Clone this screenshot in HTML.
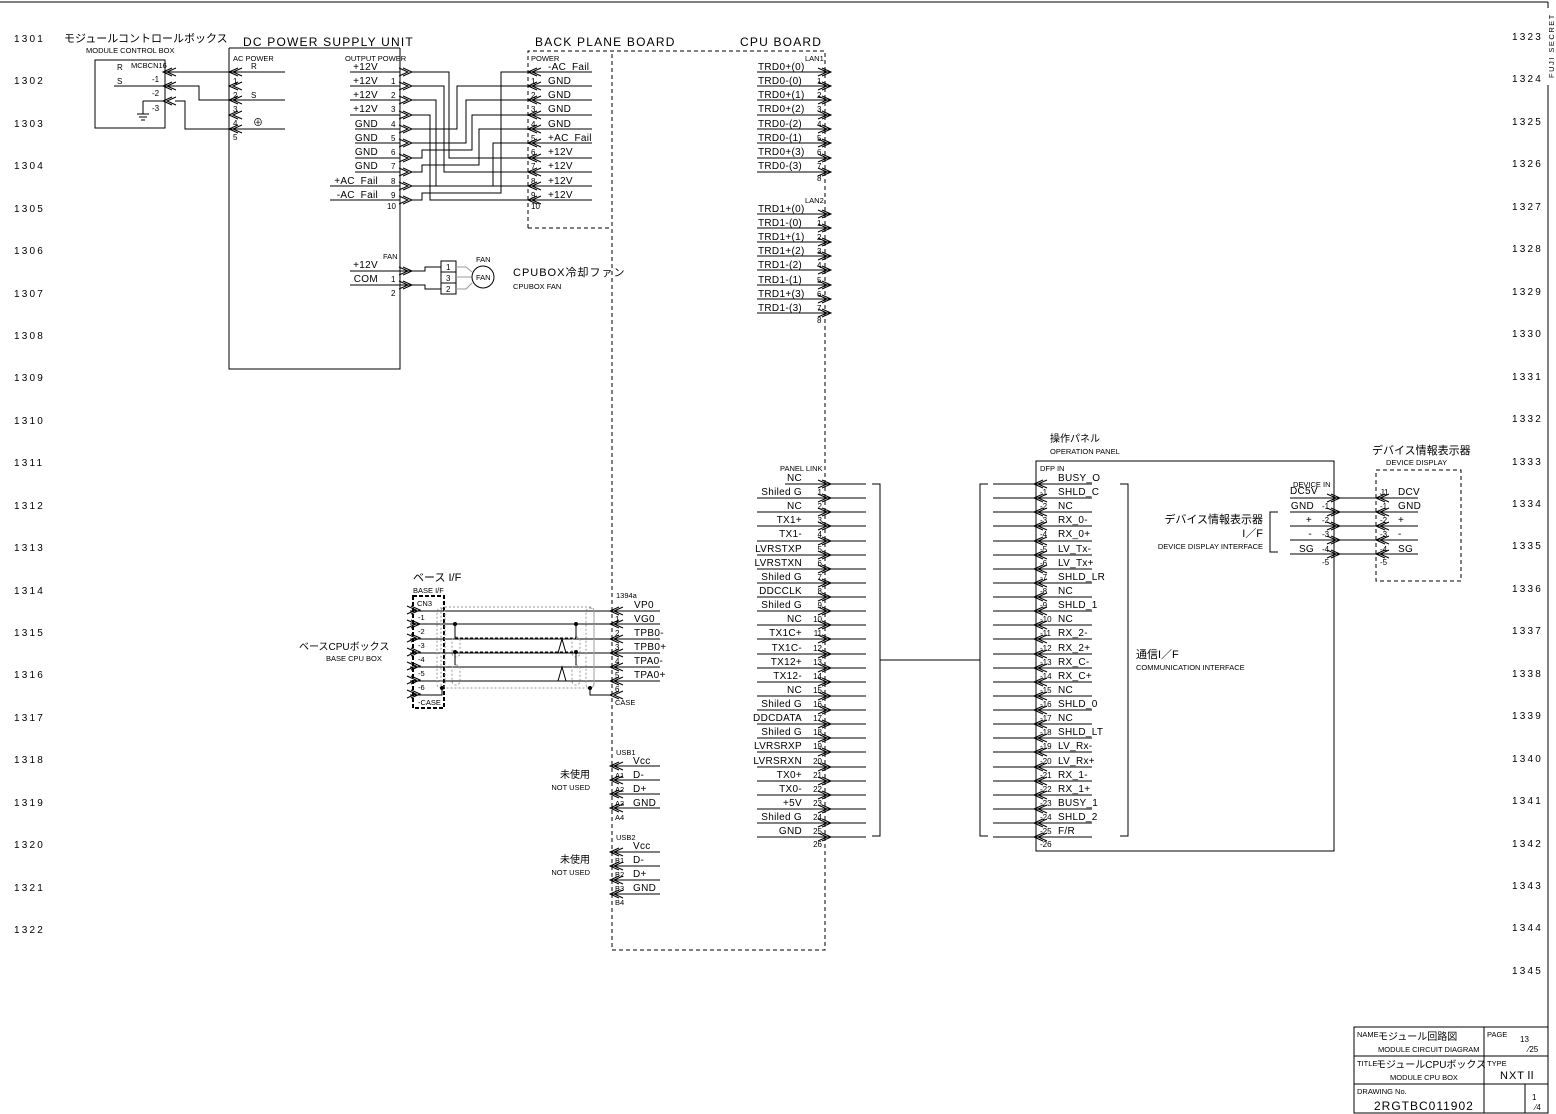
<!DOCTYPE html>
<html><head><meta charset="utf-8"><style>
html,body{margin:0;padding:0;background:#fff}
svg{display:block}
text{font-family:"Liberation Sans","Noto Sans CJK JP",sans-serif;fill:#000}
.n{font-size:10px;letter-spacing:0.3px}
.s{font-size:7.5px}
.p{font-size:8px}
.r{font-size:10px;letter-spacing:2.2px}
.t{font-size:12px;letter-spacing:1.2px}
line,path,rect,polyline,circle{stroke:#000;fill:none;stroke-width:1}
.d{stroke-dasharray:4 3}
.g{stroke:#999;stroke-dasharray:2 2}
</style></head><body>
<svg width="1556" height="1114" viewBox="0 0 1556 1114" xmlns="http://www.w3.org/2000/svg">
<defs>
<symbol id="L" overflow="visible"><path d="M9,-4L0,0L9,4M13,-4L4,0L13,4"/></symbol>
<symbol id="R" overflow="visible"><path d="M-9,-4L0,0L-9,4M-13,-4L-4,0L-13,4"/></symbol>
</defs>
<!-- frame -->
<line x1="0" y1="2" x2="1548" y2="2"/><line x1="1548" y1="2" x2="1548" y2="8"/>
<line x1="1548" y1="85" x2="1548" y2="1113"/>
<text x="0" y="0" class="s" transform="translate(1554,78) rotate(-90)" style="letter-spacing:1.5px">FUJI SECRET</text>
<!-- row numbers -->
<g class="r">
<text x="14" y="42">1301</text><text x="14" y="84">1302</text><text x="14" y="127">1303</text><text x="14" y="169">1304</text><text x="14" y="212">1305</text><text x="14" y="254">1306</text><text x="14" y="297">1307</text><text x="14" y="339">1308</text><text x="14" y="381">1309</text><text x="14" y="424">1310</text><text x="14" y="466">1311</text><text x="14" y="509">1312</text><text x="14" y="551">1313</text><text x="14" y="594">1314</text><text x="14" y="636">1315</text><text x="14" y="678">1316</text><text x="14" y="721">1317</text><text x="14" y="763">1318</text><text x="14" y="806">1319</text><text x="14" y="848">1320</text><text x="14" y="891">1321</text><text x="14" y="933">1322</text>
<text x="1512" y="40">1323</text><text x="1512" y="82">1324</text><text x="1512" y="125">1325</text><text x="1512" y="167">1326</text><text x="1512" y="210">1327</text><text x="1512" y="252">1328</text><text x="1512" y="295">1329</text><text x="1512" y="337">1330</text><text x="1512" y="380">1331</text><text x="1512" y="422">1332</text><text x="1512" y="465">1333</text><text x="1512" y="507">1334</text><text x="1512" y="549">1335</text><text x="1512" y="592">1336</text><text x="1512" y="634">1337</text><text x="1512" y="677">1338</text><text x="1512" y="719">1339</text><text x="1512" y="762">1340</text><text x="1512" y="804">1341</text><text x="1512" y="847">1342</text><text x="1512" y="889">1343</text><text x="1512" y="931">1344</text><text x="1512" y="974">1345</text>
</g>

<!-- module control box -->
<text x="64" y="42" style="font-size:11px">モジュールコントロールボックス</text>
<text x="86" y="53" class="s">MODULE CONTROL BOX</text>
<rect x="95" y="60" width="70" height="68"/>
<text x="117" y="70" class="p">R</text><text x="131" y="68" class="s">MCBCN16</text>
<text x="117" y="84" class="p">S</text><line x1="114" y1="86" x2="165" y2="86"/>
<text x="152" y="82" class="p">-1</text><text x="152" y="96" class="p">-2</text><text x="152" y="111" class="p">-3</text>
<line x1="143" y1="101" x2="165" y2="101"/><line x1="143" y1="101" x2="143" y2="114"/>
<line x1="137" y1="114" x2="149" y2="114"/><line x1="139" y1="117" x2="147" y2="117"/><line x1="141" y1="120" x2="145" y2="120"/>
<use href="#L" x="163" y="72"/><use href="#L" x="163" y="86"/><use href="#L" x="163" y="101"/>
<polyline points="165,72 229,72"/>
<polyline points="165,86 199,86 199,100 229,100"/>
<polyline points="175,101 185,101 185,129 229,129"/>

<!-- DC PSU -->
<text x="243" y="46" class="t">DC POWER SUPPLY UNIT</text>
<line x1="229" y1="48" x2="400" y2="48"/>
<polyline points="229,48 229,369 400,369 400,48"/>
<text x="233" y="61" class="s">AC POWER</text><text x="251" y="69" class="p">R</text>
<g class="p"><text x="233" y="84">1</text><text x="233" y="98">2</text><text x="233" y="112">3</text><text x="233" y="126">4</text><text x="233" y="140">5</text></g>
<text x="251" y="98" class="p">S</text><text x="253" y="126" style="font-size:10px">⊕</text>
<g><line x1="229" y1="72" x2="285" y2="72"/><line x1="229" y1="100" x2="285" y2="100"/><line x1="229" y1="129" x2="285" y2="129"/>
<use href="#L" x="229" y="72"/><use href="#L" x="229" y="86"/><use href="#L" x="229" y="100"/><use href="#L" x="229" y="115"/><use href="#L" x="229" y="129"/></g>
<text x="345" y="61" class="s">OUTPUT POWER</text>
<g class="n" text-anchor="end">
<text x="378" y="70">+12V</text><text x="378" y="84">+12V</text><text x="378" y="98">+12V</text><text x="378" y="112">+12V</text><text x="378" y="127">GND</text><text x="378" y="141">GND</text><text x="378" y="155">GND</text><text x="378" y="169">GND</text><text x="378" y="184">+AC_Fail</text><text x="378" y="198">-AC_Fail</text>
</g>
<g class="p"><text x="391" y="84">1</text><text x="391" y="98">2</text><text x="391" y="112">3</text><text x="391" y="127">4</text><text x="391" y="141">5</text><text x="391" y="155">6</text><text x="391" y="169">7</text><text x="391" y="184">8</text><text x="391" y="198">9</text><text x="387" y="209">10</text></g>
<g>
<line x1="350" y1="72" x2="400" y2="72"/><line x1="350" y1="86" x2="400" y2="86"/><line x1="350" y1="100" x2="400" y2="100"/><line x1="350" y1="115" x2="400" y2="115"/><line x1="355" y1="129" x2="400" y2="129"/><line x1="355" y1="143" x2="400" y2="143"/><line x1="355" y1="158" x2="400" y2="158"/><line x1="355" y1="172" x2="400" y2="172"/><line x1="330" y1="186" x2="400" y2="186"/><line x1="330" y1="200" x2="400" y2="200"/>
<use href="#R" x="412" y="72"/><use href="#R" x="412" y="86"/><use href="#R" x="412" y="100"/><use href="#R" x="412" y="115"/><use href="#R" x="412" y="129"/><use href="#R" x="412" y="143"/><use href="#R" x="412" y="158"/><use href="#R" x="412" y="172"/><use href="#R" x="412" y="186"/><use href="#R" x="412" y="200"/>
</g>
<!-- cross wiring -->
<polyline points="412,72 449,72 449,158 528,158"/>
<polyline points="412,86 444,86 444,172 528,172"/>
<polyline points="412,100 436,100 436,186 528,186"/>
<polyline points="412,115 430,115 430,200 528,200"/>
<polyline points="412,129 457,129 457,86 528,86"/>
<polyline points="412,143 466,143 466,100 528,100"/>
<polyline points="412,158 422,158 422,150 472,150 472,115 528,115"/>
<polyline points="412,172 422,172 422,165 479,165 479,129 528,129"/>
<polyline points="412,186 493,186 493,143 528,143"/>
<polyline points="412,200 422,200 422,193 501,193 501,72 528,72"/>

<!-- FAN -->
<text x="383" y="259" class="s">FAN</text>
<text x="378" y="268" class="n" text-anchor="end">+12V</text><text x="378" y="282" class="n" text-anchor="end">COM</text>
<text x="391" y="282" class="p">1</text><text x="391" y="296" class="p">2</text>
<line x1="350" y1="271" x2="412" y2="271"/><line x1="350" y1="285" x2="412" y2="285"/>
<use href="#R" x="412" y="271"/><use href="#R" x="412" y="285"/>
<polyline points="412,271 425,271 425,267 441,267"/><polyline points="412,285 425,285 425,289 441,289"/>
<rect x="441" y="261" width="15" height="11"/><rect x="441" y="272" width="15" height="11"/><rect x="441" y="283" width="15" height="11"/>
<g class="p"><text x="446" y="270">1</text><text x="446" y="281">3</text><text x="446" y="292">2</text></g>
<polyline points="456,267 466,267 472,272" style="stroke:#999"/><line x1="456" y1="277" x2="472" y2="277" style="stroke:#999"/><polyline points="456,289 466,289 472,283" style="stroke:#999"/>
<circle cx="483" cy="277" r="11"/><text x="476" y="280" class="s">FAN</text><text x="476" y="262" class="s">FAN</text>
<text x="513" y="276" style="font-size:11px;letter-spacing:1px">CPUBOX冷却ファン</text>
<text x="513" y="289" class="s">CPUBOX FAN</text>

<!-- backplane & CPU board -->
<text x="535" y="46" class="t">BACK PLANE BOARD</text>
<text x="740" y="46" class="t">CPU BOARD</text>
<polyline class="d" points="528,228 528,51 825,51 825,950 612,950 612,51"/>
<line class="d" x1="528" y1="228" x2="612" y2="228"/>
<text x="531" y="61" class="s">POWER</text>
<g class="n"><text x="548" y="70">-AC_Fail</text><text x="548" y="84">GND</text><text x="548" y="98">GND</text><text x="548" y="112">GND</text><text x="548" y="127">GND</text><text x="548" y="141">+AC_Fail</text><text x="548" y="155">+12V</text><text x="548" y="169">+12V</text><text x="548" y="184">+12V</text><text x="548" y="198">+12V</text></g>
<g class="p"><text x="531" y="84">1</text><text x="531" y="98">2</text><text x="531" y="112">3</text><text x="531" y="127">4</text><text x="531" y="141">5</text><text x="531" y="155">6</text><text x="531" y="169">7</text><text x="531" y="184">8</text><text x="531" y="198">9</text><text x="531" y="209">10</text></g>
<g>
<line x1="528" y1="72" x2="592" y2="72"/><line x1="528" y1="86" x2="592" y2="86"/><line x1="528" y1="100" x2="592" y2="100"/><line x1="528" y1="115" x2="592" y2="115"/><line x1="528" y1="129" x2="592" y2="129"/><line x1="528" y1="143" x2="592" y2="143"/><line x1="528" y1="158" x2="592" y2="158"/><line x1="528" y1="172" x2="592" y2="172"/><line x1="528" y1="186" x2="592" y2="186"/><line x1="528" y1="200" x2="592" y2="200"/>
<use href="#L" x="528" y="72"/><use href="#L" x="528" y="86"/><use href="#L" x="528" y="100"/><use href="#L" x="528" y="115"/><use href="#L" x="528" y="129"/><use href="#L" x="528" y="143"/><use href="#L" x="528" y="158"/><use href="#L" x="528" y="172"/><use href="#L" x="528" y="186"/><use href="#L" x="528" y="200"/>
</g>

<!-- LAN1 -->
<text x="805" y="61" class="s">LAN1</text>
<g class="n"><text x="758" y="70">TRD0+(0)</text><text x="758" y="84">TRD0-(0)</text><text x="758" y="98">TRD0+(1)</text><text x="758" y="112">TRD0+(2)</text><text x="758" y="127">TRD0-(2)</text><text x="758" y="141">TRD0-(1)</text><text x="758" y="155">TRD0+(3)</text><text x="758" y="169">TRD0-(3)</text></g>
<g class="p"><text x="817" y="84">1</text><text x="817" y="98">2</text><text x="817" y="112">3</text><text x="817" y="127">4</text><text x="817" y="141">5</text><text x="817" y="155">6</text><text x="817" y="169">7</text><text x="817" y="181">8</text></g>
<g>
<line x1="757" y1="72" x2="831" y2="72"/><line x1="757" y1="86" x2="831" y2="86"/><line x1="757" y1="100" x2="831" y2="100"/><line x1="757" y1="115" x2="831" y2="115"/><line x1="757" y1="129" x2="831" y2="129"/><line x1="757" y1="143" x2="831" y2="143"/><line x1="757" y1="158" x2="831" y2="158"/><line x1="757" y1="172" x2="831" y2="172"/>
<use href="#R" x="831" y="72"/><use href="#R" x="831" y="86"/><use href="#R" x="831" y="100"/><use href="#R" x="831" y="115"/><use href="#R" x="831" y="129"/><use href="#R" x="831" y="143"/><use href="#R" x="831" y="158"/><use href="#R" x="831" y="172"/>
</g>
<!-- LAN2 -->
<text x="805" y="203" class="s">LAN2</text>
<g class="n"><text x="758" y="212">TRD1+(0)</text><text x="758" y="226">TRD1-(0)</text><text x="758" y="240">TRD1+(1)</text><text x="758" y="254">TRD1+(2)</text><text x="758" y="268">TRD1-(2)</text><text x="758" y="283">TRD1-(1)</text><text x="758" y="297">TRD1+(3)</text><text x="758" y="311">TRD1-(3)</text></g>
<g class="p"><text x="817" y="226">1</text><text x="817" y="240">2</text><text x="817" y="254">3</text><text x="817" y="268">4</text><text x="817" y="283">5</text><text x="817" y="297">6</text><text x="817" y="311">7</text><text x="817" y="323">8</text></g>
<g>
<line x1="757" y1="214" x2="831" y2="214"/><line x1="757" y1="228" x2="831" y2="228"/><line x1="757" y1="242" x2="831" y2="242"/><line x1="757" y1="256" x2="831" y2="256"/><line x1="757" y1="270" x2="831" y2="270"/><line x1="757" y1="285" x2="831" y2="285"/><line x1="757" y1="299" x2="831" y2="299"/><line x1="757" y1="313" x2="831" y2="313"/>
<use href="#R" x="831" y="214"/><use href="#R" x="831" y="228"/><use href="#R" x="831" y="242"/><use href="#R" x="831" y="256"/><use href="#R" x="831" y="270"/><use href="#R" x="831" y="285"/><use href="#R" x="831" y="299"/><use href="#R" x="831" y="313"/>
</g>

<!-- PANEL LINK -->
<text x="780" y="471" class="s">PANEL LINK</text>
<g class="n" text-anchor="end">
<text x="802" y="481">NC</text><text x="802" y="495">Shiled G</text><text x="802" y="509">NC</text><text x="802" y="523">TX1+</text><text x="802" y="537">TX1-</text><text x="802" y="552">LVRSTXP</text><text x="802" y="566">LVRSTXN</text><text x="802" y="580">Shiled G</text><text x="802" y="594">DDCCLK</text><text x="802" y="608">Shiled G</text><text x="802" y="622">NC</text><text x="802" y="636">TX1C+</text><text x="802" y="651">TX1C-</text><text x="802" y="665">TX12+</text><text x="802" y="679">TX12-</text><text x="802" y="693">NC</text><text x="802" y="707">Shiled G</text><text x="802" y="721">DDCDATA</text><text x="802" y="735">Shiled G</text><text x="802" y="749">LVRSRXP</text><text x="802" y="764">LVRSRXN</text><text x="802" y="778">TX0+</text><text x="802" y="792">TX0-</text><text x="802" y="806">+5V</text><text x="802" y="820">Shiled G</text><text x="802" y="834">GND</text>
</g>
<g class="p" text-anchor="end">
<text x="822" y="495">1</text><text x="822" y="509">2</text><text x="822" y="523">3</text><text x="822" y="537">4</text><text x="822" y="552">5</text><text x="822" y="566">6</text><text x="822" y="580">7</text><text x="822" y="594">8</text><text x="822" y="608">9</text><text x="822" y="622">10</text><text x="822" y="636">11</text><text x="822" y="651">12</text><text x="822" y="665">13</text><text x="822" y="679">14</text><text x="822" y="693">15</text><text x="822" y="707">16</text><text x="822" y="721">17</text><text x="822" y="735">18</text><text x="822" y="749">19</text><text x="822" y="764">20</text><text x="822" y="778">21</text><text x="822" y="792">22</text><text x="822" y="806">23</text><text x="822" y="820">24</text><text x="822" y="834">25</text><text x="822" y="847">26</text>
</g>
<g>
<line x1="785" y1="484" x2="866" y2="484"/><line x1="757" y1="498" x2="866" y2="498"/><line x1="757" y1="512" x2="866" y2="512"/><line x1="757" y1="526" x2="866" y2="526"/><line x1="757" y1="541" x2="866" y2="541"/><line x1="757" y1="555" x2="866" y2="555"/><line x1="757" y1="569" x2="866" y2="569"/><line x1="757" y1="583" x2="866" y2="583"/><line x1="757" y1="597" x2="866" y2="597"/><line x1="757" y1="611" x2="866" y2="611"/><line x1="757" y1="625" x2="866" y2="625"/><line x1="757" y1="639" x2="866" y2="639"/><line x1="757" y1="654" x2="866" y2="654"/><line x1="757" y1="668" x2="866" y2="668"/><line x1="757" y1="682" x2="866" y2="682"/><line x1="757" y1="696" x2="866" y2="696"/><line x1="757" y1="710" x2="866" y2="710"/><line x1="757" y1="724" x2="866" y2="724"/><line x1="757" y1="738" x2="866" y2="738"/><line x1="757" y1="752" x2="866" y2="752"/><line x1="757" y1="767" x2="866" y2="767"/><line x1="757" y1="781" x2="866" y2="781"/><line x1="757" y1="795" x2="866" y2="795"/><line x1="757" y1="809" x2="866" y2="809"/><line x1="757" y1="823" x2="866" y2="823"/><line x1="757" y1="837" x2="866" y2="837"/>
<use href="#R" x="831" y="484"/><use href="#R" x="831" y="498"/><use href="#R" x="831" y="512"/><use href="#R" x="831" y="526"/><use href="#R" x="831" y="541"/><use href="#R" x="831" y="555"/><use href="#R" x="831" y="569"/><use href="#R" x="831" y="583"/><use href="#R" x="831" y="597"/><use href="#R" x="831" y="611"/><use href="#R" x="831" y="625"/><use href="#R" x="831" y="639"/><use href="#R" x="831" y="654"/><use href="#R" x="831" y="668"/><use href="#R" x="831" y="682"/><use href="#R" x="831" y="696"/><use href="#R" x="831" y="710"/><use href="#R" x="831" y="724"/><use href="#R" x="831" y="738"/><use href="#R" x="831" y="752"/><use href="#R" x="831" y="767"/><use href="#R" x="831" y="781"/><use href="#R" x="831" y="795"/><use href="#R" x="831" y="809"/><use href="#R" x="831" y="823"/><use href="#R" x="831" y="837"/>
</g>
<polyline points="872,484 880,484 880,836 872,836"/>
<line x1="880" y1="660" x2="980" y2="660"/>
<polyline points="988,484 980,484 980,836 988,836"/>

<!-- operation panel -->
<text x="1050" y="442" style="font-size:10px">操作パネル</text>
<text x="1050" y="454" class="s">OPERATION PANEL</text>
<rect x="1036" y="461" width="298" height="390"/>
<text x="1040" y="471" class="s">DFP IN</text>
<g class="n">
<text x="1058" y="481">BUSY_O</text><text x="1058" y="495">SHLD_C</text><text x="1058" y="509">NC</text><text x="1058" y="523">RX_0-</text><text x="1058" y="537">RX_0+</text><text x="1058" y="552">LV_Tx-</text><text x="1058" y="566">LV_Tx+</text><text x="1058" y="580">SHLD_LR</text><text x="1058" y="594">NC</text><text x="1058" y="608">SHLD_1</text><text x="1058" y="622">NC</text><text x="1058" y="636">RX_2-</text><text x="1058" y="651">RX_2+</text><text x="1058" y="665">RX_C-</text><text x="1058" y="679">RX_C+</text><text x="1058" y="693">NC</text><text x="1058" y="707">SHLD_0</text><text x="1058" y="721">NC</text><text x="1058" y="735">SHLD_LT</text><text x="1058" y="749">LV_Rx-</text><text x="1058" y="764">LV_Rx+</text><text x="1058" y="778">RX_1-</text><text x="1058" y="792">RX_1+</text><text x="1058" y="806">BUSY_1</text><text x="1058" y="820">SHLD_2</text><text x="1058" y="834">F/R</text>
</g>
<g class="p">
<text x="1040" y="495">-1</text><text x="1040" y="509">-2</text><text x="1040" y="523">-3</text><text x="1040" y="537">-4</text><text x="1040" y="552">-5</text><text x="1040" y="566">-6</text><text x="1040" y="580">-7</text><text x="1040" y="594">-8</text><text x="1040" y="608">-9</text><text x="1040" y="622">-10</text><text x="1040" y="636">-11</text><text x="1040" y="651">-12</text><text x="1040" y="665">-13</text><text x="1040" y="679">-14</text><text x="1040" y="693">-15</text><text x="1040" y="707">-16</text><text x="1040" y="721">-17</text><text x="1040" y="735">-18</text><text x="1040" y="749">-19</text><text x="1040" y="764">-20</text><text x="1040" y="778">-21</text><text x="1040" y="792">-22</text><text x="1040" y="806">-23</text><text x="1040" y="820">-24</text><text x="1040" y="834">-25</text><text x="1040" y="847">-26</text>
</g>
<g>
<line x1="993" y1="484" x2="1092" y2="484"/><line x1="993" y1="498" x2="1092" y2="498"/><line x1="993" y1="512" x2="1092" y2="512"/><line x1="993" y1="526" x2="1092" y2="526"/><line x1="993" y1="541" x2="1092" y2="541"/><line x1="993" y1="555" x2="1092" y2="555"/><line x1="993" y1="569" x2="1092" y2="569"/><line x1="993" y1="583" x2="1092" y2="583"/><line x1="993" y1="597" x2="1092" y2="597"/><line x1="993" y1="611" x2="1092" y2="611"/><line x1="993" y1="625" x2="1092" y2="625"/><line x1="993" y1="639" x2="1092" y2="639"/><line x1="993" y1="654" x2="1092" y2="654"/><line x1="993" y1="668" x2="1092" y2="668"/><line x1="993" y1="682" x2="1092" y2="682"/><line x1="993" y1="696" x2="1092" y2="696"/><line x1="993" y1="710" x2="1092" y2="710"/><line x1="993" y1="724" x2="1092" y2="724"/><line x1="993" y1="738" x2="1092" y2="738"/><line x1="993" y1="752" x2="1092" y2="752"/><line x1="993" y1="767" x2="1092" y2="767"/><line x1="993" y1="781" x2="1092" y2="781"/><line x1="993" y1="795" x2="1092" y2="795"/><line x1="993" y1="809" x2="1092" y2="809"/><line x1="993" y1="823" x2="1092" y2="823"/><line x1="993" y1="837" x2="1092" y2="837"/>
<use href="#L" x="1034" y="484"/><use href="#L" x="1034" y="498"/><use href="#L" x="1034" y="512"/><use href="#L" x="1034" y="526"/><use href="#L" x="1034" y="541"/><use href="#L" x="1034" y="555"/><use href="#L" x="1034" y="569"/><use href="#L" x="1034" y="583"/><use href="#L" x="1034" y="597"/><use href="#L" x="1034" y="611"/><use href="#L" x="1034" y="625"/><use href="#L" x="1034" y="639"/><use href="#L" x="1034" y="654"/><use href="#L" x="1034" y="668"/><use href="#L" x="1034" y="682"/><use href="#L" x="1034" y="696"/><use href="#L" x="1034" y="710"/><use href="#L" x="1034" y="724"/><use href="#L" x="1034" y="738"/><use href="#L" x="1034" y="752"/><use href="#L" x="1034" y="767"/><use href="#L" x="1034" y="781"/><use href="#L" x="1034" y="795"/><use href="#L" x="1034" y="809"/><use href="#L" x="1034" y="823"/><use href="#L" x="1034" y="837"/>
</g>
<polyline points="1120,484 1128,484 1128,836 1120,836"/>
<text x="1136" y="658" style="font-size:11px">通信I／F</text>
<text x="1136" y="670" class="s">COMMUNICATION INTERFACE</text>

<!-- device in -->
<text x="1293" y="487" class="s">DEVICE IN</text>
<text x="1290" y="494" class="n">DC5V</text>
<g class="n" text-anchor="end"><text x="1314" y="509">GND</text><text x="1312" y="523">+</text><text x="1312" y="537">-</text><text x="1314" y="552">SG</text></g>
<g class="p"><text x="1322" y="509">-1</text><text x="1322" y="523">-2</text><text x="1322" y="537">-3</text><text x="1322" y="552">-4</text><text x="1322" y="565">-5</text></g>
<g>
<line x1="1290" y1="498" x2="1378" y2="498"/><line x1="1290" y1="512" x2="1378" y2="512"/><line x1="1290" y1="526" x2="1378" y2="526"/><line x1="1290" y1="540" x2="1378" y2="540"/><line x1="1290" y1="554" x2="1378" y2="554"/>
<use href="#R" x="1340" y="498"/><use href="#R" x="1340" y="512"/><use href="#R" x="1340" y="526"/><use href="#R" x="1340" y="540"/><use href="#R" x="1340" y="554"/>
<use href="#L" x="1376" y="498"/><use href="#L" x="1376" y="512"/><use href="#L" x="1376" y="526"/><use href="#L" x="1376" y="540"/><use href="#L" x="1376" y="554"/>
<line x1="1378" y1="498" x2="1418" y2="498"/><line x1="1378" y1="512" x2="1418" y2="512"/><line x1="1378" y1="526" x2="1418" y2="526"/><line x1="1378" y1="540" x2="1418" y2="540"/><line x1="1378" y1="554" x2="1418" y2="554"/>
</g>
<polyline points="1278,512 1270,512 1270,552 1278,552"/>
<text x="1263" y="523" text-anchor="end" style="font-size:11px">デバイス情報表示器</text>
<text x="1263" y="537" text-anchor="end" style="font-size:11px">I／F</text>
<text x="1263" y="549" text-anchor="end" class="s">DEVICE DISPLAY INTERFACE</text>
<text x="1372" y="454" style="font-size:11px">デバイス情報表示器</text>
<text x="1386" y="465" class="s">DEVICE DISPLAY</text>
<rect class="d" x="1376" y="470" width="85" height="111"/>
<g class="p"><text x="1380" y="495">J1</text><text x="1380" y="509">-1</text><text x="1380" y="523">-2</text><text x="1380" y="537">-3</text><text x="1380" y="552">-4</text><text x="1380" y="565">-5</text></g>
<g class="n"><text x="1398" y="495">DCV</text><text x="1398" y="509">GND</text><text x="1398" y="523">+</text><text x="1398" y="537">-</text><text x="1398" y="552">SG</text></g>

<!-- base I/F -->
<text x="413" y="581" style="font-size:11px">ベース I/F</text>
<text x="413" y="593" class="s">BASE I/F</text>
<rect x="413" y="596" width="31" height="112" style="stroke-width:2;stroke-dasharray:4 2"/>
<text x="417" y="606" class="s">CN3</text>
<g class="s"><text x="418" y="620">-1</text><text x="418" y="634">-2</text><text x="418" y="648">-3</text><text x="418" y="662">-4</text><text x="418" y="676">-5</text><text x="418" y="690">-6</text><text x="418" y="705">-CASE</text></g>
<text x="299" y="650" style="font-size:10px">ベースCPUボックス</text>
<text x="326" y="661" class="s">BASE CPU BOX</text>
<g>
<line x1="410" y1="611" x2="612" y2="611"/><line x1="410" y1="624" x2="612" y2="624"/><line x1="410" y1="639" x2="612" y2="639"/><line x1="410" y1="653" x2="612" y2="653"/><line x1="410" y1="667" x2="612" y2="667"/><line x1="410" y1="681" x2="612" y2="681"/>
<polyline points="410,695 442,695 442,688"/><polyline points="590,688 590,695 612,695"/>
<use href="#R" x="420" y="610"/><use href="#R" x="420" y="624"/><use href="#R" x="420" y="638"/><use href="#R" x="420" y="652"/><use href="#R" x="420" y="666"/><use href="#R" x="420" y="680"/><use href="#R" x="420" y="694"/>
<use href="#L" x="610" y="611"/><use href="#L" x="610" y="624"/><use href="#L" x="610" y="639"/><use href="#L" x="610" y="653"/><use href="#L" x="610" y="667"/><use href="#L" x="610" y="681"/><use href="#L" x="610" y="695"/>
</g>
<rect class="g" x="441" y="607" width="153" height="81" rx="4"/>
<rect class="g" x="437" y="608" width="8" height="80" rx="4"/><rect class="g" x="586" y="608" width="8" height="80" rx="4"/>
<rect class="g" x="452" y="637" width="8" height="20" rx="4"/><rect class="g" x="572" y="637" width="8" height="20" rx="4"/>
<rect class="g" x="452" y="665" width="8" height="20" rx="4"/><rect class="g" x="572" y="665" width="8" height="20" rx="4"/>
<path d="M455,624V638M576,624V638M455,652V665M576,652V665" />
<path d="M455,638H576M455,652H576" style="stroke-dasharray:3 2"/>
<path d="M558,653L562,639L566,653M558,681L562,667L566,681"/>
<circle cx="455" cy="624" r="1.5" style="fill:#000"/><circle cx="576" cy="624" r="1.5" style="fill:#000"/><circle cx="455" cy="652" r="1.5" style="fill:#000"/><circle cx="576" cy="652" r="1.5" style="fill:#000"/><circle cx="442" cy="688" r="1.5" style="fill:#000"/><circle cx="590" cy="688" r="1.5" style="fill:#000"/>
<text x="616" y="598" class="s">1394a</text>
<g class="n"><text x="634" y="608">VP0</text><text x="634" y="622">VG0</text><text x="634" y="636">TPB0-</text><text x="634" y="650">TPB0+</text><text x="634" y="664">TPA0-</text><text x="634" y="678">TPA0+</text></g>
<g class="p"><text x="615" y="622">1</text><text x="615" y="636">2</text><text x="615" y="650">3</text><text x="615" y="664">4</text><text x="615" y="678">5</text><text x="615" y="692">6</text></g>
<text x="615" y="705" class="s">CASE</text>
<line x1="612" y1="611" x2="660" y2="611"/><line x1="612" y1="624" x2="660" y2="624"/><line x1="612" y1="639" x2="660" y2="639"/><line x1="612" y1="653" x2="660" y2="653"/><line x1="612" y1="667" x2="660" y2="667"/><line x1="612" y1="681" x2="660" y2="681"/>

<!-- USB -->
<text x="616" y="755" class="s">USB1</text>
<g class="n"><text x="633" y="764">Vcc</text><text x="633" y="778">D-</text><text x="633" y="792">D+</text><text x="633" y="806">GND</text></g>
<g class="s"><text x="615" y="778">A1</text><text x="615" y="792">A2</text><text x="615" y="806">A3</text><text x="615" y="820">A4</text></g>
<line x1="612" y1="766" x2="660" y2="766"/><line x1="612" y1="780" x2="660" y2="780"/><line x1="612" y1="794" x2="660" y2="794"/><line x1="612" y1="808" x2="660" y2="808"/>
<use href="#L" x="610" y="766"/><use href="#L" x="610" y="780"/><use href="#L" x="610" y="794"/><use href="#L" x="610" y="808"/>
<text x="590" y="778" text-anchor="end" style="font-size:10px">未使用</text><text x="590" y="790" text-anchor="end" class="s">NOT USED</text>
<text x="616" y="840" class="s">USB2</text>
<g class="n"><text x="633" y="849">Vcc</text><text x="633" y="863">D-</text><text x="633" y="877">D+</text><text x="633" y="891">GND</text></g>
<g class="s"><text x="615" y="863">B1</text><text x="615" y="877">B2</text><text x="615" y="891">B3</text><text x="615" y="905">B4</text></g>
<line x1="612" y1="852" x2="660" y2="852"/><line x1="612" y1="866" x2="660" y2="866"/><line x1="612" y1="880" x2="660" y2="880"/><line x1="612" y1="894" x2="660" y2="894"/>
<use href="#L" x="610" y="852"/><use href="#L" x="610" y="866"/><use href="#L" x="610" y="880"/><use href="#L" x="610" y="894"/>
<text x="590" y="863" text-anchor="end" style="font-size:10px">未使用</text><text x="590" y="875" text-anchor="end" class="s">NOT USED</text>

<!-- title block -->
<rect x="1354" y="1027" width="194" height="86"/>
<line x1="1354" y1="1056" x2="1548" y2="1056"/><line x1="1354" y1="1084" x2="1548" y2="1084"/>
<line x1="1484" y1="1027" x2="1484" y2="1113"/><line x1="1525" y1="1084" x2="1525" y2="1113"/>
<text x="1357" y="1037" class="s">NAME</text><text x="1378" y="1040" style="font-size:10px">モジュール回路図</text>
<text x="1378" y="1052" class="s">MODULE CIRCUIT DIAGRAM</text>
<text x="1487" y="1037" class="s">PAGE</text><text x="1520" y="1042" class="p">13</text><text x="1528" y="1052" class="p">⁄25</text>
<text x="1357" y="1066" class="s">TITLE</text><text x="1376" y="1068" style="font-size:10px">モジュールCPUボックス</text>
<text x="1390" y="1080" class="s">MODULE CPU BOX</text>
<text x="1487" y="1066" class="s">TYPE</text><text x="1500" y="1079" style="font-size:11px;letter-spacing:1px">NXTⅡ</text>
<text x="1357" y="1094" class="s">DRAWING No.</text>
<text x="1374" y="1110" style="font-size:12px;letter-spacing:1px">2RGTBC011902</text>
<text x="1532" y="1100" class="p">1</text><text x="1535" y="1110" class="p">⁄4</text>
</svg>
</body></html>
